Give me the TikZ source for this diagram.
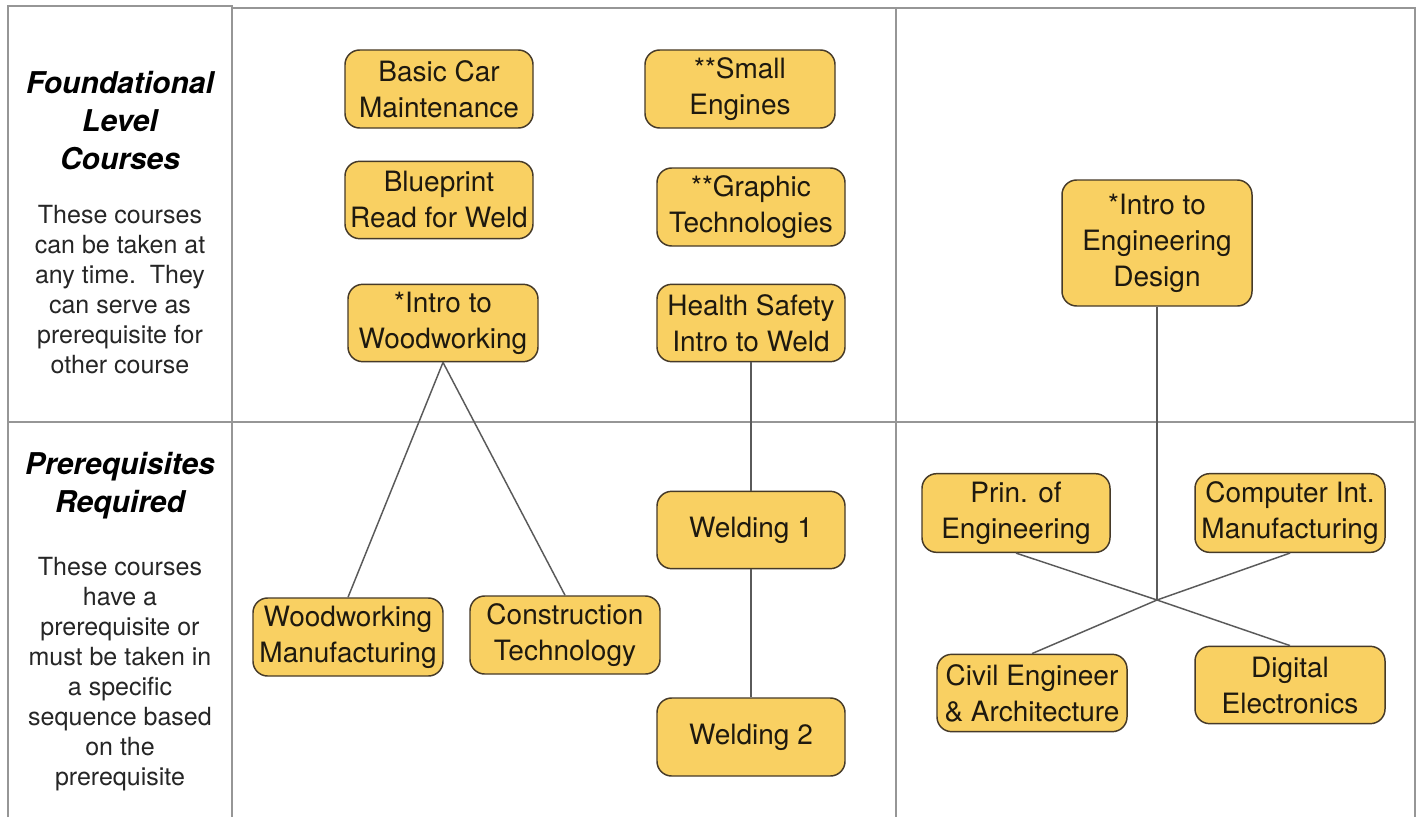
\documentclass[tikz,border=0pt]{standalone}
\usepackage{fontspec}
\setmainfont{TeX Gyre Heros}
\definecolor{boxfill}{RGB}{249,208,98}
\definecolor{boxline}{RGB}{70,58,40}
\definecolor{gridline}{RGB}{150,150,150}
\definecolor{conline}{RGB}{90,90,90}
\definecolor{txt}{RGB}{30,25,15}
\tikzset{
  course/.style={draw=boxline, line width=1.1pt, fill=boxfill, rounded corners=11pt,
    align=center, inner sep=0pt, text=txt,
    font=\fontsize{21}{27}\selectfont},
  gridl/.style={draw=gridline, line width=1.3pt},
  conn/.style={draw=conline, line width=1.1pt},
  heading/.style={align=center, text=black, font=\fontsize{22.5}{28.5}\selectfont\bfseries\itshape},
  bodytext/.style={align=center, text=black!85, font=\fontsize{18.75}{22.5}\selectfont},
}
\begin{document}
\begin{tikzpicture}[x=0.75pt,y=-0.75pt]
\useasboundingbox (0,0) rectangle (1419,817);
\fill[white] (0,0) rectangle (1419,817);
% grid
\coordinate (g1) at (8,6);
\coordinate (g2) at (232,6);
\coordinate (g3) at (8,817);
\coordinate (g4) at (232,817);
\coordinate (g5) at (232,8);
\coordinate (g6) at (1415,8);
\coordinate (g7) at (1415,817);
\coordinate (g8) at (896,8);
\coordinate (g9) at (896,817);
\coordinate (g10) at (8,422);
\coordinate (g11) at (1415,422);
\draw[gridl] (g3) -- (g1) -- (g2) -- (g4);
\draw[gridl] (g5) -- (g6) -- (g7);
\draw[gridl] (g8) -- (g9);
\draw[gridl] (g10) -- (g11);
% left column
\node[heading] (h1) at (120,121) {Foundational\\Level\\Courses};
\node[bodytext] (b1) at (120,290) {These courses\\can be taken at\\any time.\ \ They\\can serve as\\prerequisite for\\other course};
\node[heading] (h2) at (120,486) {Prerequisites\\Required};
\node[bodytext] (b2) at (120,674) {These courses\\have a\\prerequisite or\\must be taken in\\a specific\\sequence based\\on the\\prerequisite};
% nodes
\node[course, minimum width=141pt, minimum height=58.5pt] (bcm) at (439,89) {Basic Car\\Maintenance};
\node[course, minimum width=142.5pt, minimum height=58.5pt] (se) at (740,89) {**Small\\Engines};
\node[course, minimum width=141pt, minimum height=58pt] (bp) at (439,200) {Blueprint\\Read for Weld};
\node[course, minimum width=141pt, minimum height=58.5pt] (gt) at (751,207) {**Graphic\\Technologies};
\node[course, minimum width=142.5pt, minimum height=58pt] (iw) at (443,323) {*Intro to\\Woodworking};
\node[course, minimum width=141pt, minimum height=58pt] (hs) at (751,323) {Health Safety\\Intro to Weld};
\node[course, minimum width=142.5pt, minimum height=94.5pt] (ied) at (1157,243) {*Intro to\\Engineering\\Design};
\node[course, minimum width=141pt, minimum height=58pt] (w1) at (751,530) {Welding 1};
\node[course, minimum width=141pt, minimum height=58.5pt] (w2) at (751,737) {Welding 2};
\node[course, minimum width=142.5pt, minimum height=58.5pt] (wm) at (348,637) {Woodworking\\Manufacturing};
\node[course, minimum width=142.5pt, minimum height=58.5pt] (ct) at (565,635) {Construction\\Technology};
\node[course, minimum width=141pt, minimum height=59pt] (pe) at (1016,513) {Prin. of\\Engineering};
\node[course, minimum width=142.5pt, minimum height=59pt] (cim) at (1290,513) {Computer Int.\\Manufacturing};
\node[course, minimum width=142.5pt, minimum height=58pt] (cea) at (1032,693) {Civil Engineer\\\& Architecture};
\node[course, minimum width=142.5pt, minimum height=58pt] (de) at (1290,685) {Digital\\Electronics};
% connectors
\coordinate (J) at (1157,600);
\draw[conn] (iw.south) -- (wm.north);
\draw[conn] (iw.south) -- (ct.north);
\draw[conn] (hs.south) -- (w1.north);
\draw[conn] (w1.south) -- (w2.north);
\draw[conn] (ied.south) -- (J);
\draw[conn] (J) -- (pe.south);
\draw[conn] (J) -- (cim.south);
\draw[conn] (J) -- (cea.north);
\draw[conn] (J) -- (de.north);
\end{tikzpicture}
\end{document}
